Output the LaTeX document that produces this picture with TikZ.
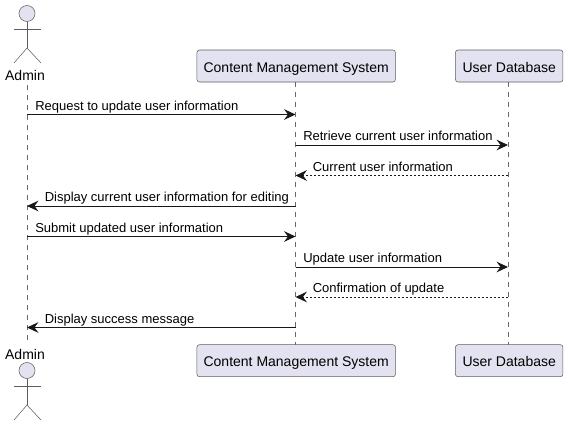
\documentclass[tikz,border=0pt]{standalone}
\usepackage{fontspec}
\setmainfont{Liberation Sans}
\usetikzlibrary{arrows.meta}
\definecolor{actorfill}{HTML}{E2E2F0}
\definecolor{actorline}{HTML}{181818}
\tikzset{%
  participant/.style={draw=actorline!70, line width=0.4pt, fill=actorfill, rounded corners=1.9pt,
    minimum height=24pt, inner sep=0pt, text height=9.2pt, text depth=0pt,
    font=\fontsize{10.5}{12}\selectfont},% boxes at both ends
  actorname/.style={inner sep=0pt, font=\fontsize{10.5}{12}\selectfont},% stick figure name
  figure/.style={draw=actorline!70, line width=0.4pt},% stick figure
  lifeline/.style={draw=actorline!65, line width=0.38pt, dash pattern=on 3.75pt off 3.75pt},
  call/.style={draw=actorline, line width=0.7pt,
    -{Stealth[length=8.6pt,width=8pt,inset=3pt]}},% solid message
  reply/.style={call, dash pattern=on 1.5pt off 1.5pt},% dashed message
  msg/.style={anchor=base west, inner sep=0pt, font=\fontsize{9.75}{12}\selectfont}% message text
}
\newcommand*{\stickman}[2]{
  \node[figure, circle, fill=actorfill, minimum size=12pt, inner sep=0pt] (#1head) at (27,#2) {};
  \coordinate (#1hip) at (27,#2+34.5);
  \coordinate (#1arml) at (14,#2+15.5);
  \coordinate (#1armr) at (41,#2+15.5);
  \coordinate (#1legl) at (14,#2+49.5);
  \coordinate (#1legr) at (41,#2+49.5);
  \draw[figure] (#1head) -- (#1hip);
  \draw[figure] (#1arml) -- (#1armr);
  \draw[figure] (#1legl) -- (#1hip) -- (#1legr);
}
\begin{document}
\begin{tikzpicture}[x=0.75pt,y=-0.75pt]
\useasboundingbox (0,0) rectangle (568,426);

% top row
\node[actorname] (adminT) at (25,75) {Admin};
\node[participant, minimum width=148.9pt] (cmsT) at (296.2,66) {Content Management System};
\node[participant, minimum width=80.6pt] (dbT) at (509.2,66) {User Database};

% bottom row
\node[actorname] (adminB) at (25,354) {Admin};
\node[participant, minimum width=148.9pt] (cmsB) at (296.2,360.7) {Content Management System};
\node[participant, minimum width=80.6pt] (dbB) at (509.2,360.7) {User Database};

\coordinate (adminS) at (27,85);
\coordinate (adminE) at (27,345);
\coordinate (cmsS) at (295.5,82);
\coordinate (cmsE) at (295.5,345);
\coordinate (dbS) at (508,82);
\coordinate (dbE) at (508,345);

\draw[lifeline] (adminS) -- (adminE);
\draw[lifeline] (cmsS) -- (cmsE);
\draw[lifeline] (dbS) -- (dbE);

\stickman{top}{13.5}
\stickman{bot}{370.5}

% message rows
\coordinate (a1) at (27,114.5);
\coordinate (c1) at (295.5,114.5);
\coordinate (c2) at (295.5,145);
\coordinate (d2) at (508,145);
\coordinate (c3) at (295.5,175.5);
\coordinate (d3) at (508,175.5);
\coordinate (a4) at (27,206);
\coordinate (c4) at (295.5,206);
\coordinate (a5) at (27,236.5);
\coordinate (c5) at (295.5,236.5);
\coordinate (c6) at (295.5,267);
\coordinate (d6) at (508,267);
\coordinate (c7) at (295.5,297);
\coordinate (d7) at (508,297);
\coordinate (a8) at (27,327.5);
\coordinate (c8) at (295.5,327.5);

\draw[call] (a1) -- (c1);
\draw[call] (c2) -- (d2);
\draw[reply] (d3) -- (c3);
\draw[call] (c4) -- (a4);
\draw[call] (a5) -- (c5);
\draw[call] (c6) -- (d6);
\draw[reply] (d7) -- (c7);
\draw[call] (c8) -- (a8);

\node[msg] (m1) at (35,110) {Request to update user information};
\node[msg] (m2) at (303,140) {Retrieve current user information};
\node[msg] (m3) at (312.5,171) {Current user information};
\node[msg] (m4) at (44.5,201.5) {Display current user information for editing};
\node[msg] (m5) at (35,232) {Submit updated user information};
\node[msg] (m6) at (303,262) {Update user information};
\node[msg] (m7) at (312.5,292.5) {Confirmation of update};
\node[msg] (m8) at (44.5,323) {Display success message};

\end{tikzpicture}
\end{document}
